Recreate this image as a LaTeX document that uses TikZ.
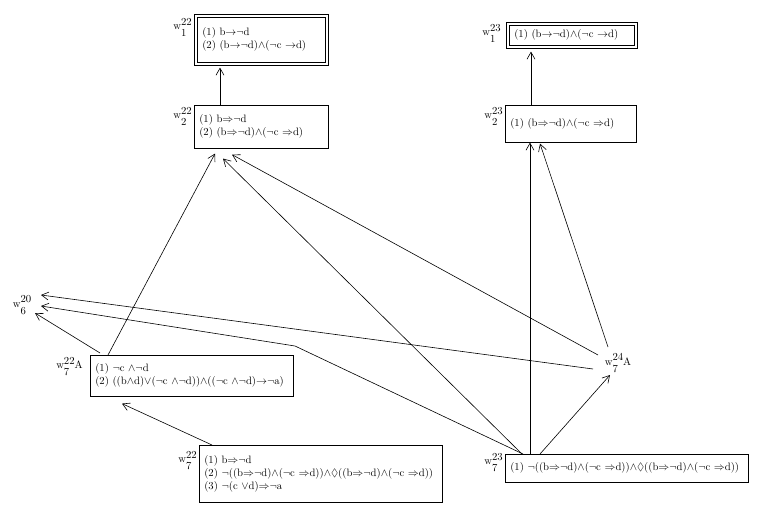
\documentclass[tikz,border=0pt]{standalone}
\usepackage{amsmath,amssymb}
\usepackage{tikz}
\usetikzlibrary{calc,arrows.meta}
\newcommand{\wname}[2]{w\raisebox{-7pt}{\shortstack[l]{#1\\[1pt]#2}}}
\newcommand{\imp}{$\Rightarrow$}
\newcommand{\sto}{$\rightarrow$}
\newcommand{\nt}{$\neg$}
\newcommand{\cj}{$\wedge$}

\begin{document}
\begin{tikzpicture}[x = 1pt, y = -1pt, line width = 0.6pt,
    world/.style = {draw, anchor = north west, align = left, inner xsep = 5pt,
        inner ysep = 2pt, font = \fontsize{10.7}{13}\selectfont},
    wlabel/.style = {anchor = north east, inner sep = 0pt, xshift = -2pt, yshift = -2pt,
        font = \fontsize{10.7}{13}\selectfont},
    arrow/.style = {-{Straight Barb[length = 7pt, width = 8pt]}}]
                \useasboundingbox (0,0) rectangle (765,516);
                % worlds
                \node[world, text width = 118pt, minimum height = 45pt,
                    label = {[wlabel, xshift = -3pt, yshift = 1pt]north west:\wname{22}{1}}](w22one)at(197,17)
                    {(1) b\sto\nt d\\(2) (b\sto\nt d)\cj(\nt c \sto d)};
                \node[world, text width = 124pt, minimum height = 43pt,
                    label = {[wlabel]north west:\wname{22}{2}}](w22two)at(194,105)
                    {(1) b\imp\nt d\\(2) (b\imp\nt d)\cj(\nt c \imp d)};
                \node[world, text width = 115pt, minimum height = 20pt,
                    label = {[wlabel, xshift = -6pt, yshift = 3pt]north west:\wname{23}{1}}](w23one)at(509,25)
                    {(1) (b\sto\nt d)\cj(\nt c \sto d)};
                \node[world, text width = 121pt, minimum height = 37pt,
                    label = {[wlabel]north west:\wname{23}{2}}](w23two)at(505,105)
                    {(1) (b\imp\nt d)\cj(\nt c \imp d)};
                \node[world, text width = 193pt, minimum height = 41pt,
                    label = {[wlabel, xshift = -5pt]north west:{\wname{22}{7}A}}](w22A)at(90,355)
                    {(1) \nt c \cj\nt d\\(2) ((b\cj d)$\vee$(\nt c \cj\nt d))\cj((\nt c \cj\nt d)\sto\nt a)};
                \node[world, text width = 233pt, minimum height = 57pt,
                    label = {[wlabel, yshift = -4pt]north west:\wname{22}{7}}](w22seven)at(199,445)
                    {(1) b\imp\nt d\\(2) \nt((b\imp\nt d)\cj(\nt c \imp d))\cj$\Diamond$((b\imp\nt d)\cj(\nt c \imp d))\\(3) \nt(c $\vee$d)\imp\nt a};
                \node[world, text width = 233pt, minimum height = 28pt,
                    label = {[wlabel, yshift = 3pt]north west:\wname{23}{7}}](w23seven)at(505,454)
                    {(1) \nt((b\imp\nt d)\cj(\nt c \imp d))\cj$\Diamond$((b\imp\nt d)\cj(\nt c \imp d))};
                \node[wlabel, anchor = center, xshift = 0pt, yshift = 0pt](w6)at(24,303){\wname{20}{6}};
                \node[wlabel, anchor = center, xshift = 0pt, yshift = 0pt](w24A)at(620,361){\wname{24}{7}A};
                % outer frames of the two top worlds
                \path[draw]([shift = {(-3pt,3pt)}]w22one.north west)rectangle([shift = {(3pt,-3pt)}]w22one.south east);
                \path[draw]([shift = {(-3pt,3pt)}]w23one.north west)rectangle([shift = {(3pt,-3pt)}]w23one.south east);
                \coordinate(bend)at(295,346);
                % accessibility
                \path[draw, arrow]($(w22two.north west)+(26,0)$)to($(w22one.south west)+(23,5)$);
                \path[draw, arrow]($(w23two.north west)+(26,0)$)to($(w23one.south west)+(22,6)$);
                \path[draw, arrow]($(w22A.north west)+(18,0)$)to($(w22two.south west)+(21,5)$);
                \path[draw, arrow]($(w22A.north west)+(10,-2)$)to($(w6.center)+(13,8)$);
                \path[draw, arrow]($(w22seven.north west)+(13,0)$)to($(w22A.south west)+(32,7)$);
                \path[draw, arrow]($(w24A.center)+(-20,-8)$)to($(w22two.south west)+(38,6)$);
                \path[draw, arrow]($(w24A.center)+(-10,-16)$)to($(w23two.south west)+(35,1)$);
                \path[draw, arrow]($(w24A.center)+(-25,6)$)to($(w6.center)+(19,-10)$);
                \path[draw, arrow]($(w23seven.north west)+(18,0)$)to(bend)to($(w6.center)+(19,1)$);
                \path[draw, arrow]($(w23seven.north west)+(17,0)$)to($(w22two.south west)+(29,10)$);
                \path[draw, arrow]($(w23seven.north west)+(25,0)$)to($(w23two.south west)+(25,0)$);
                \path[draw, arrow]($(w23seven.north west)+(35,0)$)to($(w24A.center)+(-8,12)$);
            \end{tikzpicture}
\end{document}
